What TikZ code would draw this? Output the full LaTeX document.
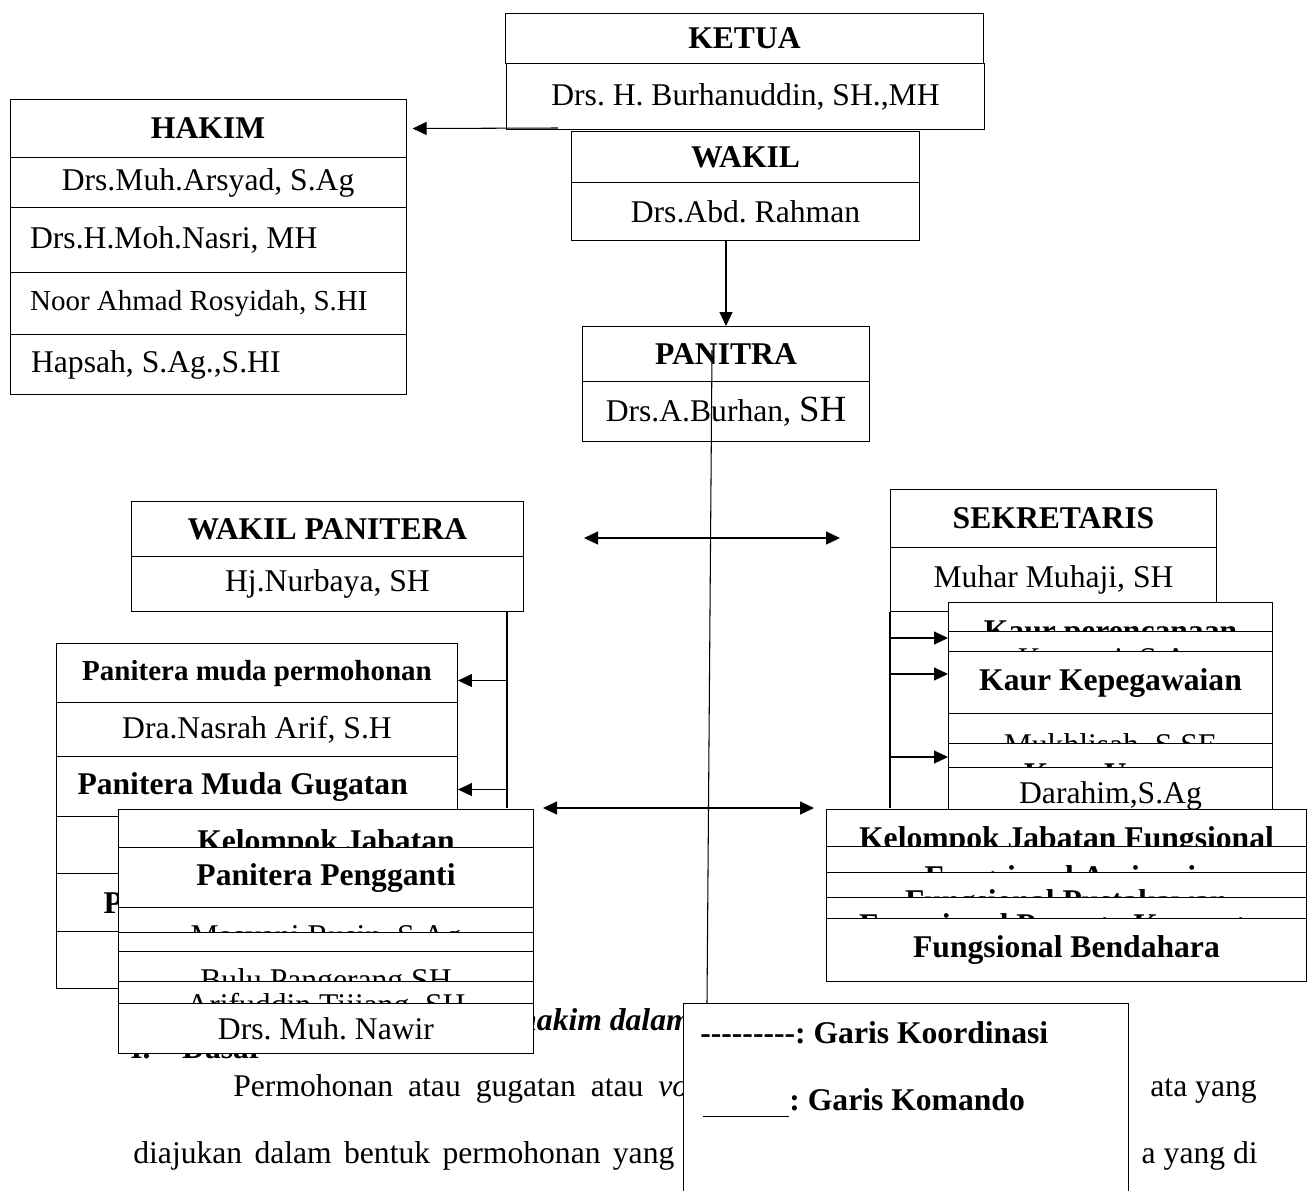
\documentclass[tikz,border=0pt]{standalone}
\usepackage{fontspec}
\setmainfont{Liberation Serif}
\usetikzlibrary{arrows.meta}
\frenchspacing

\tikzset{
  cell/.style={draw, fill=white, line width=0.6pt, inner sep=0pt, anchor=north west,
    font=\fontsize{18}{21}\selectfont},
  head/.style={cell, font=\fontsize{18}{21}\selectfont\bfseries},
  cmd/.style={line width=0.6pt, -{Triangle[length=0.28cm,width=0.26cm]}},
  coord/.style={line width=0.6pt, {Triangle[length=0.28cm,width=0.26cm]}-{Triangle[length=0.28cm,width=0.26cm]}},
  body/.style={anchor=base west, inner sep=0pt, font=\fontsize{18}{21}\selectfont}
}

\begin{document}
\begin{tikzpicture}[x=0.02cm, y=-0.02cm]

    \useasboundingbox (0,0) rectangle (1307,1190);
    \fill[white] (0,0) rectangle (1307,1190);

    \node[body, font=\fontsize{18}{21}\selectfont\bfseries\itshape] (bdH) at (519,1030) {hakim dalam};
    \node[body, font=\fontsize{18}{21}\selectfont\bfseries] (bdD) at (130,1058) {I.\hspace{18pt}Dasar};
    \node[body] (bdP) at (233,1096) {\spaceskip=8.5pt Permohonan atau gugatan atau \textit{voluntair}};
    \node[body, anchor=base east] (bdPr) at (1257,1096) {ata yang};
    \node[body] (bdJ) at (133,1163) {\spaceskip=7pt diajukan dalam bentuk permohonan yang};
    \node[body, anchor=base east] (bdJr) at (1258,1163) {a yang di};

    \node[head, minimum width=9.56cm, minimum height=1.0cm] (ketua) at (505,13) {KETUA};
    \node[cell, minimum width=9.56cm, minimum height=1.32cm] (ketuaN) at (506,63) {Drs. H. Burhanuddin, SH.,MH};

    \node[head, minimum width=6.96cm, minimum height=1.02cm] (wakil) at (571,131) {WAKIL};
    \node[cell, minimum width=6.96cm, minimum height=1.16cm] (wakilN) at (571,182) {Drs.Abd. Rahman};

    \node[head, minimum width=5.74cm, minimum height=1.1cm] (panitra) at (582,326) {PANITRA};
    \node[cell, minimum width=5.74cm, minimum height=1.2cm] (panitraN) at (582,381) {Drs.A.Burhan, {\fontsize{21}{24}\selectfont SH}};

    \node[head, minimum width=7.92cm, minimum height=1.16cm] (hakim) at (9.6,99) {HAKIM};
    \node[cell, minimum width=7.92cm, minimum height=1.0cm] (hakim1) at (9.6,157) {Drs.Muh.Arsyad, S.Ag};
    \node[cell, minimum height=1.3cm] (hakim2) at (9.6,207) {\makebox[7.92cm][l]{\hspace{0.4cm}Drs.H.Moh.Nasri, MH}};
    \node[cell, minimum height=1.24cm, font=\fontsize{16.5}{19}\selectfont] (hakim3) at (9.6,272) {\makebox[7.92cm][l]{\hspace{0.4cm}Noor Ahmad Rosyidah, S.HI}};
    \node[cell, minimum height=1.2cm] (hakim4) at (9.6,334) {\makebox[7.92cm][l]{\hspace{0.42cm}Hapsah, S.Ag.,S.HI}};

    \coordinate (ketL) at (558,128);
    \draw[cmd] (ketL) -- ([xshift=0.12cm]hakim.east);
    \draw[cmd] (wakilN.south -| panitra.north) -- (panitra.north);

    \node[head, minimum width=7.84cm, minimum height=1.1cm] (wpan) at (131,501) {WAKIL PANITERA};
    \node[cell, minimum width=7.84cm, minimum height=1.1cm] (wpanN) at (131,556) {Hj.Nurbaya, SH};

    \node[head, minimum width=6.52cm, minimum height=1.16cm] (sek) at (890,489) {SEKRETARIS};
    \node[cell, minimum width=6.52cm, minimum height=1.28cm] (sekN) at (890,547) {Muhar Muhaji, SH};

    \coordinate (k1L) at (584,538);
    \coordinate (k1R) at (840,538);
    \draw[coord] (k1L) -- (k1R);

    \node[head, minimum width=8.02cm, minimum height=1.18cm, font=\fontsize{16.5}{19}\selectfont\bfseries] (pmP) at (56,643) {Panitera muda permohonan};
    \node[cell, minimum width=8.02cm, minimum height=1.08cm] (pmPN) at (56,702) {Dra.Nasrah Arif, S.H};
    \node[head, minimum height=1.2cm] (pmG) at (56,756) {\makebox[8.02cm][l]{\hspace{0.42cm}Panitera Muda Gugatan}};
    \node[cell, minimum width=8.02cm, minimum height=1.14cm] (pmGN) at (56,816) {};
    \node[head, minimum height=1.16cm] (pmH) at (56,873) {\makebox[8.02cm][l]{\hspace{0.94cm}Panitera Muda Hukum}};
    \node[cell, minimum width=8.02cm, minimum height=1.14cm] (pmHN) at (56,931) {};

    \coordinate (wpB) at (507,808);
    \draw[line width=0.6pt] (wpanN.south -| wpB) -- (wpB);
    \draw[cmd] ([yshift=-0.15cm]pmP.east -| wpB) -- ([yshift=-0.15cm]pmP.east);
    \draw[cmd] ([yshift=-0.06cm]pmG.east -| wpB) -- ([yshift=-0.06cm]pmG.east);

    \coordinate (k2L) at (543,808);
    \coordinate (k2R) at (814,808);
    \draw[coord] (k2L) -- (k2R);

    \node[head, minimum width=6.48cm, minimum height=1.28cm] (kaP) at (948,602) {Kaur perencanaan};
    \node[cell, minimum width=6.48cm, minimum height=1.24cm] (kaPN) at (948,631) {Kusnani, S.Ag};
    \node[head, minimum width=6.48cm, minimum height=1.24cm] (kaK) at (948,651) {Kaur Kepegawaian};
    \node[cell, minimum width=6.48cm, minimum height=1.32cm] (kaKN) at (948,713) {Mukhlisah, S.SE};
    \node[head, minimum width=6.48cm, minimum height=1.24cm] (kaU) at (948,743) {Kaur Umum};
    \node[cell, minimum width=6.48cm, minimum height=1.12cm] (kaUN) at (948,767) {Darahim,S.Ag};

    \coordinate (sekB) at (890,808);
    \draw[line width=0.6pt] (sekN.south west) -- (sekB);
    \draw[cmd] (sekB |- 0,638) -- (kaP.west |- 0,638);
    \draw[cmd] (sekB |- 0,674) -- (kaP.west |- 0,674);
    \draw[cmd] (sekB |- 0,757) -- (kaP.west |- 0,757);

    \node[head, minimum width=9.6cm, minimum height=1.26cm] (kf) at (826,809) {Kelompok Jabatan Fungsional};
    \node[head, minimum width=9.6cm, minimum height=1.32cm] (kfA) at (826,846) {Fungsional Arsiparis};
    \node[head, minimum width=9.6cm, minimum height=1.24cm] (kfP) at (826,872) {Fungsional Pustakawan};
    \node[head, minimum width=9.6cm, minimum height=1.2cm] (kfK) at (826,897) {Fungsional Pranata Komputer};
    \node[head, minimum width=9.6cm, minimum height=1.26cm] (kfB) at (826,918) {Fungsional Bendahara};

    \node[head, minimum width=8.3cm, minimum height=1.36cm] (kj) at (118,809) {Kelompok Jabatan};
    \node[head, minimum width=8.3cm, minimum height=1.2cm] (kjP) at (118,847) {Panitera Pengganti};
    \node[cell, minimum width=8.3cm, minimum height=1.28cm] (kj1) at (118,907) {Masyani Rusin, S.Ag};
    \node[cell, minimum width=8.3cm, minimum height=1.0cm] (kj2) at (118,932) {};
    \node[cell, minimum width=8.3cm, minimum height=1.24cm] (kj3) at (118,951) {Bulu Pangerang SH};
    \node[cell, minimum width=8.3cm, minimum height=1.04cm] (kj4) at (118,981) {Arifuddin Tijjang, SH};
    \node[cell, minimum width=8.3cm, minimum height=1.0cm] (kj5) at (118,1003) {Drs. Muh. Nawir};

    \node[cell, minimum width=8.9cm, minimum height=4.6cm] (legend) at (683,1003) {};
    \node[body, font=\fontsize{18}{21}\selectfont\bfseries] (lgK) at (700,1043) {-{}-{}-{}-{}-{}-{}-{}-{}-: Garis Koordinasi};
    \node[body, font=\fontsize{18}{21}\selectfont\bfseries] (lgC) at (703,1110) {\rule[-4pt]{49pt}{0.7pt}: Garis Komando};

    \coordinate (panL) at (712,350);
    \draw[line width=0.6pt] (panL) -- ([xshift=0.48cm]legend.north west);

  \end{tikzpicture}
\end{document}
